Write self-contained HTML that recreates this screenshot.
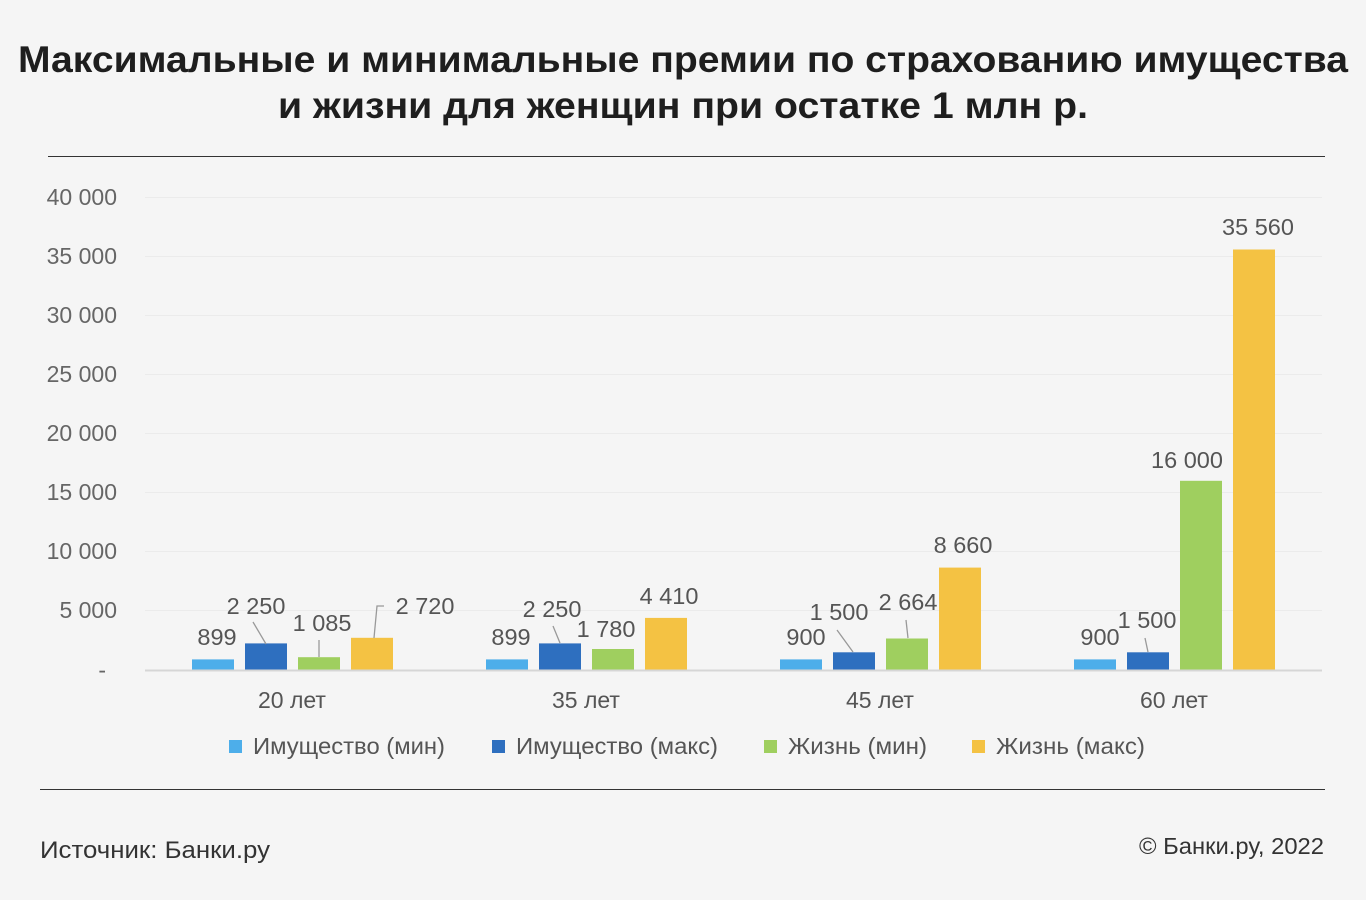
<!DOCTYPE html>
<html><head><meta charset="utf-8"><style>
html,body{margin:0;padding:0;background:#f5f5f5;}
svg{display:block;font-family:"Liberation Sans","DejaVu Sans",sans-serif;}
</style></head><body>
<svg width="1366" height="900" viewBox="0 0 1366 900" xmlns="http://www.w3.org/2000/svg">
<rect width="1366" height="900" fill="#f5f5f5"/>
<text x="683" y="72" text-anchor="middle" font-size="37" font-weight="bold" fill="#1e1e1e" textLength="1330" lengthAdjust="spacingAndGlyphs">Максимальные и минимальные премии по страхованию имущества</text>
<text x="683" y="118" text-anchor="middle" font-size="37" font-weight="bold" fill="#1e1e1e" textLength="810" lengthAdjust="spacingAndGlyphs">и жизни для женщин при остатке 1 млн р.</text>
<line x1="48" y1="156.5" x2="1325" y2="156.5" stroke="#333" stroke-width="1"/>
<line x1="40" y1="789.5" x2="1325" y2="789.5" stroke="#333" stroke-width="1"/>
<g stroke="#ebebeb" stroke-width="1">
<line x1="145" y1="197.5" x2="1322" y2="197.5"/><line x1="145" y1="256.5" x2="1322" y2="256.5"/>
<line x1="145" y1="315.5" x2="1322" y2="315.5"/><line x1="145" y1="374.5" x2="1322" y2="374.5"/>
<line x1="145" y1="433.5" x2="1322" y2="433.5"/><line x1="145" y1="492.5" x2="1322" y2="492.5"/>
<line x1="145" y1="551.5" x2="1322" y2="551.5"/><line x1="145" y1="610.5" x2="1322" y2="610.5"/>
</g>
<g font-size="23" fill="#666" text-anchor="end">
<text x="117" y="205">40 000</text><text x="117" y="264">35 000</text><text x="117" y="323">30 000</text>
<text x="117" y="382">25 000</text><text x="117" y="441">20 000</text><text x="117" y="500">15 000</text>
<text x="117" y="559">10 000</text><text x="117" y="618">5 000</text><text x="106" y="678">-</text>
</g>
<g>
<rect x="192" y="659.4" width="42" height="10.6" fill="#4daeea"/>
<rect x="245" y="643.4" width="42" height="26.6" fill="#2e6fbf"/>
<rect x="298" y="657.2" width="42" height="12.8" fill="#9fcf5f"/>
<rect x="351" y="637.8" width="42" height="32.2" fill="#f4c243"/>
<rect x="486" y="659.4" width="42" height="10.6" fill="#4daeea"/>
<rect x="539" y="643.4" width="42" height="26.6" fill="#2e6fbf"/>
<rect x="592" y="649" width="42" height="21" fill="#9fcf5f"/>
<rect x="645" y="617.9" width="42" height="52.1" fill="#f4c243"/>
<rect x="780" y="659.4" width="42" height="10.6" fill="#4daeea"/>
<rect x="833" y="652.3" width="42" height="17.7" fill="#2e6fbf"/>
<rect x="886" y="638.5" width="42" height="31.5" fill="#9fcf5f"/>
<rect x="939" y="567.6" width="42" height="102.4" fill="#f4c243"/>
<rect x="1074" y="659.4" width="42" height="10.6" fill="#4daeea"/>
<rect x="1127" y="652.3" width="42" height="17.7" fill="#2e6fbf"/>
<rect x="1180" y="480.8" width="42" height="189.2" fill="#9fcf5f"/>
<rect x="1233" y="249.5" width="42" height="420.5" fill="#f4c243"/>
</g>
<line x1="145" y1="670.5" x2="1322" y2="670.5" stroke="#d6d6d6" stroke-width="2"/>
<g stroke="#999" stroke-width="1.3" fill="none">
<line x1="253" y1="622" x2="266" y2="644"/>
<line x1="319" y1="640" x2="319" y2="657"/>
<polyline points="384,606 377,606 374,638"/>
<line x1="553" y1="626" x2="560" y2="643"/>
<line x1="837" y1="630" x2="853" y2="652"/>
<line x1="906" y1="620" x2="908" y2="638"/>
<line x1="1145" y1="638" x2="1148" y2="652"/>
</g>
<g font-size="23.5" fill="#555" text-anchor="middle">
<text x="217" y="645">899</text><text x="256" y="614">2 250</text><text x="322" y="631">1 085</text><text x="425" y="614">2 720</text>
<text x="511" y="645">899</text><text x="552" y="617">2 250</text><text x="606" y="637">1 780</text><text x="669" y="604">4 410</text>
<text x="806" y="645">900</text><text x="839" y="620">1 500</text><text x="908" y="610">2 664</text><text x="963" y="553">8 660</text>
<text x="1100" y="645">900</text><text x="1147" y="628">1 500</text><text x="1187" y="468">16 000</text><text x="1258" y="235">35 560</text>
</g>
<g font-size="23" fill="#555" text-anchor="middle">
<text x="292" y="708">20 лет</text><text x="586" y="708">35 лет</text><text x="880" y="708">45 лет</text><text x="1174" y="708">60 лет</text>
</g>
<g font-size="23" fill="#555">
<rect x="229" y="740" width="13" height="13" fill="#4daeea"/><text x="253" y="754" textLength="192" lengthAdjust="spacingAndGlyphs">Имущество (мин)</text>
<rect x="492" y="740" width="13" height="13" fill="#2e6fbf"/><text x="516" y="754" textLength="202" lengthAdjust="spacingAndGlyphs">Имущество (макс)</text>
<rect x="764" y="740" width="13" height="13" fill="#9fcf5f"/><text x="788" y="754" textLength="139" lengthAdjust="spacingAndGlyphs">Жизнь (мин)</text>
<rect x="972" y="740" width="13" height="13" fill="#f4c243"/><text x="996" y="754" textLength="149" lengthAdjust="spacingAndGlyphs">Жизнь (макс)</text>
</g>
<text x="40" y="858" font-size="24" fill="#333" textLength="230" lengthAdjust="spacingAndGlyphs">Источник: Банки.ру</text>
<text x="1324" y="854" font-size="23" fill="#333" text-anchor="end" textLength="185" lengthAdjust="spacingAndGlyphs">© Банки.ру, 2022</text>
</svg>
</body></html>
